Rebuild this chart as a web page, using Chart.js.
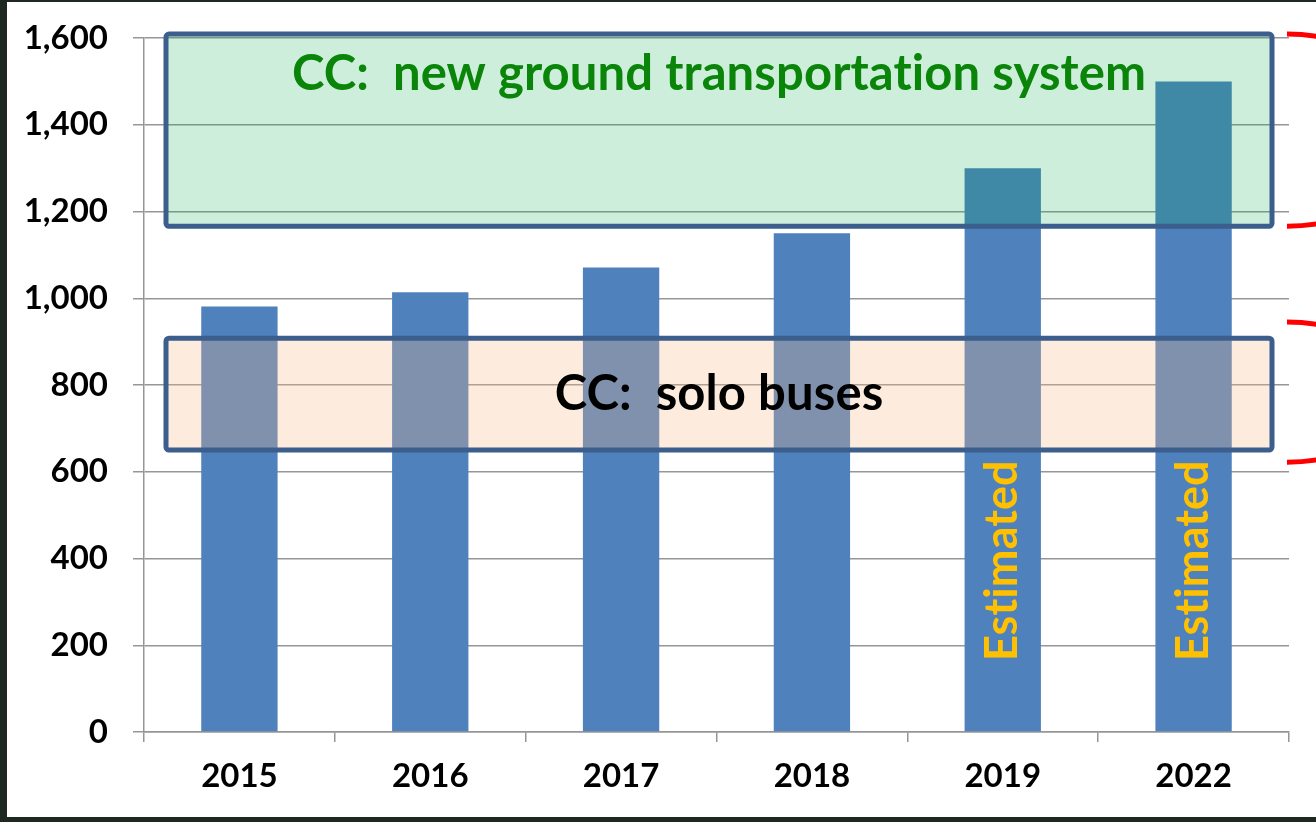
<!DOCTYPE html>
<html>
<head>
<meta charset="utf-8">
<title>Ridership</title>
<script src="https://cdn.jsdelivr.net/npm/chart.js@4.4.1/dist/chart.umd.min.js"></script>
<style>
  html, body { margin: 0; padding: 0; background: #1d2820; }
  #wrap { position: absolute; left: 0; top: 0; width: 1316px; height: 822px; }
</style>
</head>
<body>
<div id="wrap"><canvas id="chart" width="1316" height="822"></canvas></div>
<script>
// Данные
const YEARS     = ['2015', '2016', '2017', '2018', '2019', '2022'];
const RIDERS    = [981, 1014, 1071, 1150, 1300, 1500];
const ESTIMATED = [false, false, false, false, true, true];
const Y_TICKS   = [0, 200, 400, 600, 800, 1000, 1200, 1400, 1600];

// Зоны (значения по оси Y)
const ZONE_LABELS = ['CC:  new ground transportation system', 'CC:  solo buses'];
const ZONE_TOP    = [1609, 908];
const ZONE_BOTTOM = [1166, 650];
const ZONE_FILL   = ['rgba(0,170,75,0.2)', 'rgba(248,186,138,0.29)'];
const ZONE_TEXT   = ['#0a850a', '#000000'];

// Края красных скобок справа
const BRACE_MARKS = [1609, 1166, 945, 622];

const GRID = '#969696';
const FONT = 'Lato';
Chart.defaults.font.family = FONT;

const panelPlugin = {
  id: 'panel',
  beforeDraw(chart) {
    const { ctx, width, height } = chart;
    ctx.save();
    ctx.fillStyle = '#1d2820';
    ctx.fillRect(0, 0, width, height);
    ctx.fillStyle = '#ffffff';
    ctx.fillRect(7, 2, width - 7, 815);
    ctx.restore();
  },
};

const zonesPlugin = {
  id: 'zones',
  afterDatasetsDraw(chart) {
    const { ctx, chartArea: a, scales: { y } } = chart;
    const left = a.left + 22, right = a.right - 17;
    ctx.save();
    ZONE_LABELS.forEach((label, i) => {
      const top = y.getPixelForValue(ZONE_TOP[i]);
      const bottom = y.getPixelForValue(ZONE_BOTTOM[i]);
      ctx.beginPath();
      ctx.roundRect(left, top, right - left, bottom - top, 3);
      ctx.fillStyle = ZONE_FILL[i];
      ctx.fill();
      ctx.lineWidth = 5;
      ctx.strokeStyle = '#3b5e8c';
      ctx.stroke();

      ctx.fillStyle = ZONE_TEXT[i];
      ctx.font = `bold 49px ${FONT}`;
      ctx.letterSpacing = '0.1px'; // без лигатур
      ctx.textAlign = 'center';
      ctx.textBaseline = 'middle';
      const ty = i === 0 ? top + 40 : (top + bottom) / 2;
      ctx.fillText(label, (left + right) / 2, ty);
    });

    // подписи "Estimated"
    const meta = chart.getDatasetMeta(0);
    ctx.fillStyle = '#ffc000';
    ctx.font = `bold 45px ${FONT}`;
    meta.data.forEach((bar, i) => {
      if (!ESTIMATED[i]) return;
      ctx.save();
      ctx.translate(bar.x, y.getPixelForValue(395));
      ctx.rotate(-Math.PI / 2);
      ctx.textAlign = 'center';
      ctx.textBaseline = 'middle';
      ctx.fillText('Estimated', 0, 0);
      ctx.restore();
    });

    // красные скобки
    ctx.strokeStyle = '#ff0000';
    ctx.lineWidth = 5;
    ctx.lineCap = 'butt';
    BRACE_MARKS.forEach((v, i) => {
      const py = y.getPixelForValue(v);
      const dir = i % 2 === 0 ? 1 : -1;
      ctx.beginPath();
      ctx.moveTo(a.right - 2, py);
      ctx.quadraticCurveTo(a.right + 14, py, 1318, py + 2.5 * dir);
      ctx.stroke();
    });
    ctx.restore();
  },
};

new Chart(document.getElementById('chart'), {
  type: 'bar',
  data: {
    labels: YEARS,
    datasets: [{
      data: RIDERS,
      backgroundColor: '#4f81bd',
      borderWidth: 0,
      barPercentage: 0.4,
      categoryPercentage: 1,
    }],
  },
  options: {
    responsive: false,
    animation: false,
    layout: { padding: { top: 38, right: 27, left: 0, bottom: 0 } },
    plugins: { legend: { display: false }, tooltip: { enabled: false } },
    scales: {
      x: {
        grid: { display: true, drawOnChartArea: false, offset: true, tickLength: 10, color: GRID, lineWidth: 1.5 },
        border: { display: true, color: GRID, width: 1.5 },
        ticks: { color: '#000', padding: 15, font: { size: 33, weight: 'bold' } },
        afterFit(s) { s.height = 90; s.paddingLeft = 0; s.paddingRight = 0; },
      },
      y: {
        min: 0,
        max: 1600,
        afterBuildTicks(s) { s.ticks = Y_TICKS.map(v => ({ value: v })); },
        grid: { color: GRID, lineWidth: 1.5, tickLength: 11 },
        border: { display: true, color: GRID, width: 1.5 },
        ticks: {
          color: '#000',
          padding: 25,
          font: { size: 33, weight: 'bold' },
          callback: v => v.toLocaleString('en-US'),
        },
        afterFit(s) { s.width = 144; s.paddingTop = 0; s.paddingBottom = 0; },
      },
    },
  },
  plugins: [panelPlugin, zonesPlugin],
});
</script>
</body>
</html>
